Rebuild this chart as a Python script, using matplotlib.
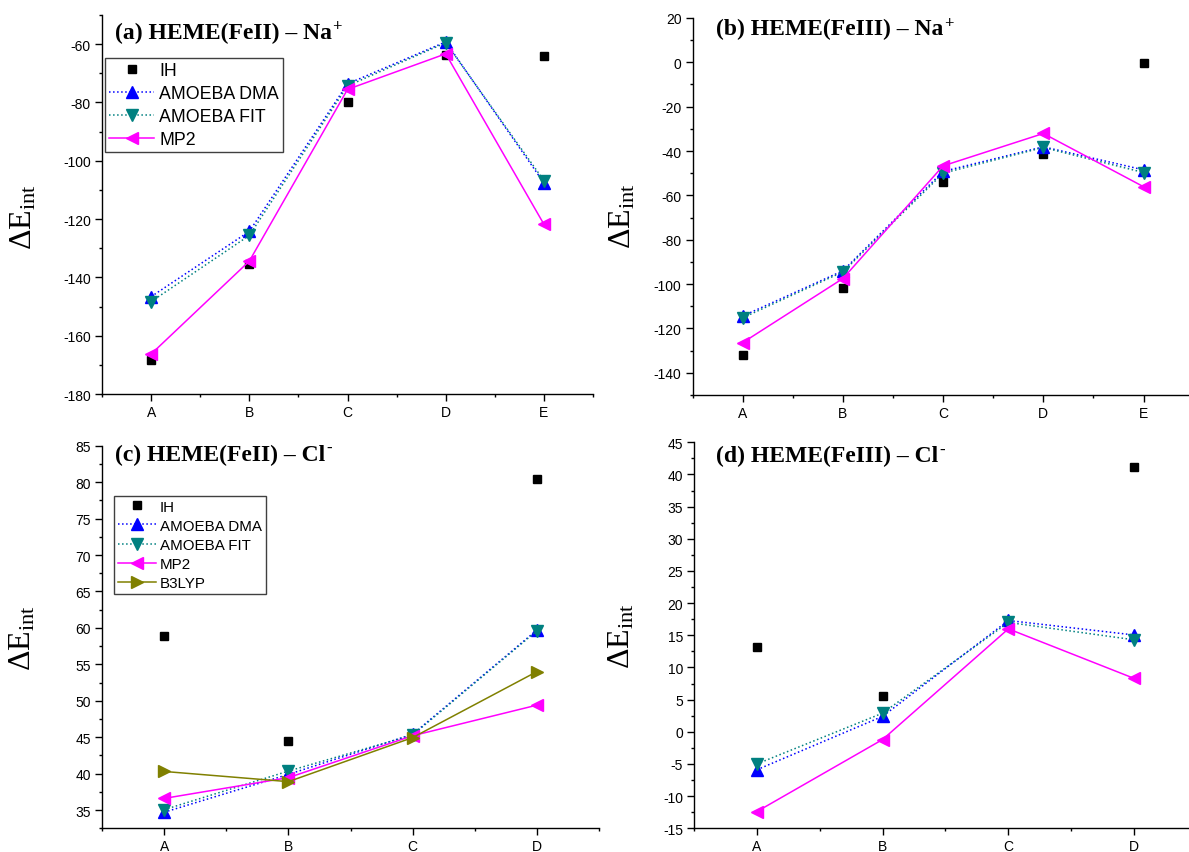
"""
Interaction energies of HEME(FeII/FeIII) with Na+ and Cl- (four-panel comparison).
"""

import matplotlib

matplotlib.use("Agg")
import matplotlib.pyplot as plt
from matplotlib.ticker import FixedLocator, MultipleLocator

plt.rcParams.update(
    {
        "font.family": ["Liberation Sans", "DejaVu Sans"],
        "mathtext.fontset": "custom",
        "mathtext.rm": "Liberation Serif",
        "mathtext.it": "Liberation Serif:italic",
        "mathtext.bf": "Liberation Serif:bold",
        "axes.unicode_minus": False,
        "axes.spines.top": False,
        "axes.spines.right": False,
        "axes.linewidth": 1.0,
    }
)

# ---- data (kcal/mol) ----
sites_na = ["A", "B", "C", "D", "E"]
sites_cl = ["A", "B", "C", "D"]

# (a) HEME(FeII) - Na+
a_ih = [-168.5, -135.3, -79.9, -63.8, -63.9]
a_dma = [-146.6, -124.2, -73.6, -59.2, -107.6]
a_fit = [-148.3, -125.6, -74.3, -59.5, -106.8]
a_mp2 = [-166.3, -134.4, -75.5, -63.3, -121.8]

# (b) HEME(FeIII) - Na+
b_ih = [-132.0, -101.9, -54.2, -41.4, -0.5]
b_dma = [-114.4, -94.0, -49.2, -38.1, -48.5]
b_fit = [-115.2, -94.5, -50.0, -38.4, -49.7]
b_mp2 = [-126.4, -97.5, -46.7, -32.1, -56.1]

# (c) HEME(FeII) - Cl-
c_ih = [58.9, 44.5, 45.3, 80.4]
c_dma = [34.7, 39.9, 45.4, 59.7]
c_fit = [35.05, 40.35, 45.3, 59.6]
c_mp2 = [36.6, 39.45, 45.2, 49.4]
c_b3lyp = [40.3, 38.9, 44.95, 54.0]

# (d) HEME(FeIII) - Cl-
d_ih = [13.2, 5.6, 17.1, 41.2]
d_dma = [-5.9, 2.4, 17.3, 15.05]
d_fit = [-5.0, 2.9, 17.0, 14.3]
d_mp2 = [-12.4, -1.2, 16.0, 8.3]

STYLES = {
    "IH": dict(ls="none", marker="s", ms=6, color="black", mec="black"),
    "AMOEBA DMA": dict(ls=":", lw=1.1, marker="^", ms=8, color="#0000ff"),
    "AMOEBA FIT": dict(ls=":", lw=1.1, marker="v", ms=8, color="#008080"),
    "MP2": dict(ls="-", lw=1.1, marker="<", ms=8, color="#ff00ff"),
    "B3LYP": dict(ls="-", lw=1.1, marker=">", ms=8, color="#808000"),
}


def draw_panel(ax, labels, series, title, charge, ylim, ymajor, title_xy, ylab_x, ylab_y):
    x = list(range(1, len(labels) + 1))
    for name, vals in series:
        ax.plot(x, vals, label=name, **STYLES[name])

    ax.set_xlim(0.5, len(labels) + 0.5)
    ax.set_ylim(*ylim)
    ax.xaxis.set_major_locator(FixedLocator(x))
    ax.set_xticklabels(labels)
    ax.xaxis.set_minor_locator(MultipleLocator(0.5))
    ax.yaxis.set_major_locator(MultipleLocator(ymajor))
    ax.yaxis.set_minor_locator(MultipleLocator(ymajor / 2))
    ax.tick_params(which="major", direction="out", length=5, width=1.0, labelsize=10, pad=3)
    ax.tick_params(which="minor", direction="out", length=2.5, width=1.0)

    t = ax.text(
        title_xy[0], title_xy[1], title,
        transform=ax.transAxes, family="Liberation Serif", fontweight="bold",
        fontsize=17, ha="left", va="center",
    )
    # ion charge as a superscript just after the title
    ax.annotate(
        charge, xy=(1.0, 0.78), xycoords=t, xytext=(0.5, 0), textcoords="offset points",
        family="Liberation Serif", fontweight="bold", fontsize=12, ha="left", va="center",
    )
    ax.set_ylabel(r"$\Delta\mathrm{E}_{\mathrm{int}}$", fontsize=23)
    ax.yaxis.set_label_coords(ylab_x, ylab_y)


fig = plt.figure(figsize=(11.89, 8.53), dpi=100)
ax_a = fig.add_axes([0.0858, 0.5369, 0.413, 0.4443])
ax_b = fig.add_axes([0.5825, 0.5358, 0.4214, 0.442])
ax_c = fig.add_axes([0.0858, 0.0278, 0.418, 0.4485])
ax_d = fig.add_axes([0.5837, 0.0278, 0.423, 0.4525])

draw_panel(
    ax_a, sites_na,
    [("IH", a_ih), ("AMOEBA DMA", a_dma), ("AMOEBA FIT", a_fit), ("MP2", a_mp2)],
    "(a) HEME(FeII) – Na", "+", (-180, -50), 20, (0.026, 0.955), -0.13, 0.47,
)
draw_panel(
    ax_b, sites_na,
    [("IH", b_ih), ("AMOEBA DMA", b_dma), ("AMOEBA FIT", b_fit), ("MP2", b_mp2)],
    "(b) HEME(FeIII) – Na", "+", (-150, 20), 20, (0.047, 0.971), -0.11, 0.477,
)
draw_panel(
    ax_c, sites_cl,
    [("IH", c_ih), ("AMOEBA DMA", c_dma), ("AMOEBA FIT", c_fit), ("MP2", c_mp2), ("B3LYP", c_b3lyp)],
    "(c) HEME(FeII) – Cl", "-", (32.5, 85), 5, (0.027, 0.978), -0.13, 0.5,
)
draw_panel(
    ax_d, sites_cl,
    [("IH", d_ih), ("AMOEBA DMA", d_dma), ("AMOEBA FIT", d_fit), ("MP2", d_mp2)],
    "(d) HEME(FeIII) – Cl", "-", (-15, 45), 5, (0.044, 0.965), -0.115, 0.5,
)

for ax, fs, lsp, anchor in [(ax_a, 12.8, 0.33, (0.006, 0.887)), (ax_c, 10.9, 0.34, (0.024, 0.869))]:
    leg = ax.legend(
        loc="upper left", bbox_to_anchor=anchor, fontsize=fs, frameon=True,
        fancybox=False, edgecolor="#404040", framealpha=1.0, handlelength=2.5,
        handletextpad=0.3, labelspacing=lsp, borderpad=0.25, borderaxespad=0.0,
        numpoints=1,
    )
    leg.get_frame().set_linewidth(1.0)

fig.savefig("out.png", dpi=100)
